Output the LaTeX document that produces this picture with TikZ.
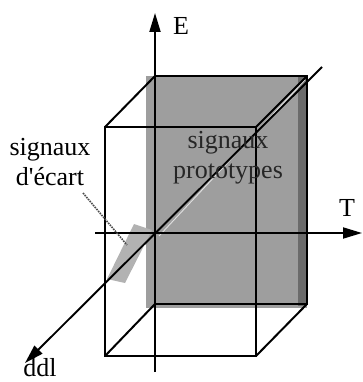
\documentclass[tikz,border=0pt]{standalone}
\usepackage{fontspec}
\setmainfont{Liberation Serif}
\usetikzlibrary{arrows.meta,positioning,calc}
\tikzset{
  axis/.style={draw=black, line width=1.9pt, -{Triangle[length=19pt,width=11pt]}},
  backedge/.style={draw=black, line width=2.8pt},
  frontedge/.style={draw=black, line width=2pt},
  lbl/.style={font=\fontsize{26}{30}\selectfont, inner sep=0pt, align=center},
  halftone/.style={fill=black!38, draw=none},
}

\begin{document}
\begin{tikzpicture}[x=1pt,y=-1pt]
  \useasboundingbox (0,0) rectangle (362,382);
  % back face
  \coordinate (b1) at (155,76);
  \coordinate (b2) at (307,76);
  \coordinate (b3) at (307,304);
  \coordinate (b4) at (155,304);
  % front face
  \coordinate (f1) at (105,127);
  \coordinate (f2) at (256,127);
  \coordinate (f3) at (256,356);
  \coordinate (f4) at (105,356);
  % axes ends
  \coordinate (O) at (155,233);
  \coordinate (Etop) at (155,13);
  \coordinate (Ebot) at (155,372);
  \coordinate (Tl) at (95,233);
  \coordinate (Tr) at (362,233);
  \coordinate (Dtop) at (322,67);
  \coordinate (Dbot) at (25,363);
  % shaded regions
  \fill[halftone] (146,76) rectangle (307,308);
  \fill[black!58] (298,76) rectangle (307,306);
  \fill[black!30] (134,224) -- (152,230) -- (125,283) -- (107,279) -- cycle;
  \draw[black!12, line width=0.9pt] ($(O)+(4,3)$) -- ($(b2)+(-2,4)$);
  % box
  \draw[backedge] (b1) -- (b2) -- (b3) -- (b4) -- cycle;
  \draw[frontedge] (f1) -- (f2) -- (f3) -- (f4) -- cycle;
  \draw[frontedge] (b1) -- (f1) (b2) -- (f2) (b3) -- (f3) (b4) -- (f4);
  % axes
  \draw[axis] (Ebot) -- (Etop);
  \draw[axis] (Tl) -- (Tr);
  \draw[axis] (Dtop) -- (Dbot);
  \node[lbl] (lblE) at (181,26) {E};
  \node[lbl] (lblT) at (347,208) {T};
  \node[lbl, anchor=base] (lblD) at (40,376) {ddl};
  % labels
  \node[lbl] (ecart) at (50,162) {signaux\\d\textquotesingle\'ecart};
  \node[lbl, text=black!85] (proto) at (228,158) {signaux\\prototypes};
  \coordinate (lead1) at (83,193);
  \coordinate (lead2) at (127,245);
  \draw[densely dotted, line width=1.6pt, black!70] (lead1) -- (lead2);
\end{tikzpicture}
\end{document}
